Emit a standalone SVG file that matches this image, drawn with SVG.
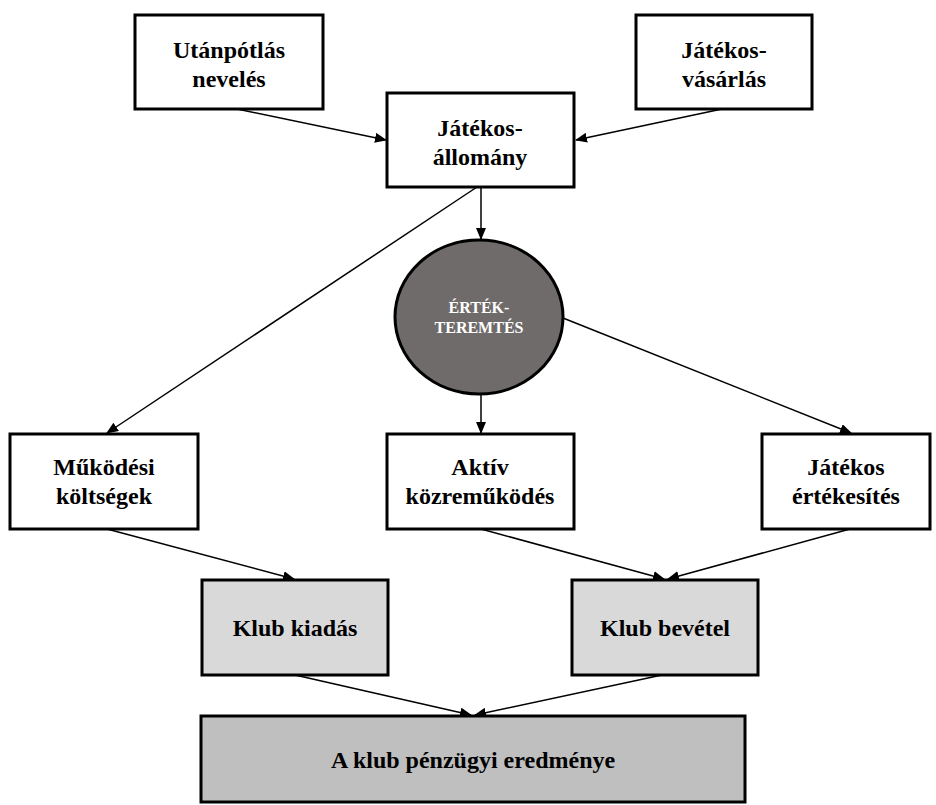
<svg xmlns="http://www.w3.org/2000/svg" width="936" height="805" viewBox="0 0 936 805">
  <style>
    .box { fill: #ffffff; stroke: #000000; stroke-width: 3; }
    .sum { fill: #d9d9d9; stroke: #000000; stroke-width: 3; }
    .res { fill: #bfbfbf; stroke: #000000; stroke-width: 3; }
    .hub { fill: #6f6b6a; stroke: #000000; stroke-width: 3; }
    text { font-family: "Times New Roman", "Liberation Serif", "DejaVu Serif", serif; font-weight: bold; text-anchor: middle; }
    .lbl { font-size: 24px; fill: #000000; }
    .hubl { font-size: 16px; fill: #ffffff; }
    .edge { stroke: #000000; stroke-width: 1.5; fill: none; marker-end: url(#arrow); }
  </style>
  <defs>
    <marker id="arrow" markerUnits="userSpaceOnUse" markerWidth="12" markerHeight="10" refX="11" refY="5" orient="auto">
      <path d="M0,0 L12,5 L0,10 z" fill="#000000"/>
    </marker>
  </defs>

  <g id="connectors">
    <line class="edge" x1="237" y1="109" x2="386" y2="140"/>
    <line class="edge" x1="722" y1="109" x2="576" y2="140"/>
    <line class="edge" x1="481" y1="187" x2="481" y2="239"/>
    <line class="edge" x1="477" y1="187" x2="107" y2="433"/>
    <line class="edge" x1="481" y1="394" x2="481" y2="433"/>
    <line class="edge" x1="563" y1="318" x2="851" y2="433"/>
    <line class="edge" x1="107" y1="529" x2="294" y2="579"/>
    <line class="edge" x1="481" y1="529" x2="664" y2="579"/>
    <line class="edge" x1="850" y1="529" x2="668" y2="579"/>
    <line class="edge" x1="295" y1="675" x2="471" y2="715"/>
    <line class="edge" x1="662" y1="675" x2="475" y2="715"/>
  </g>

  <g id="utanpotlas">
    <rect class="box" x="135" y="15" width="188" height="94"/>
    <text class="lbl" x="229" y="58" font-family="Liberation Serif, serif">Utánpótlás</text>
    <text class="lbl" x="229" y="87" font-family="Liberation Serif, serif">nevelés</text>
  </g>

  <g id="jatekosvasarlas">
    <rect class="box" x="636" y="15" width="176" height="94"/>
    <text class="lbl" x="724" y="58">Játékos-</text>
    <text class="lbl" x="724" y="87">vásárlás</text>
  </g>

  <g id="jatekosallomany">
    <rect class="box" x="387" y="93" width="187" height="94"/>
    <text class="lbl" x="480" y="136">Játékos-</text>
    <text class="lbl" x="480" y="165">állomány</text>
  </g>

  <g id="ertekteremtes">
    <ellipse class="hub" cx="479" cy="317" rx="84" ry="77"/>
    <text class="hubl" x="479" y="313">ÉRTÉK-</text>
    <text class="hubl" x="479" y="333">TEREMTÉS</text>
  </g>

  <g id="mukodesi">
    <rect class="box" x="10" y="434" width="188" height="95"/>
    <text class="lbl" x="104" y="475">Működési</text>
    <text class="lbl" x="104" y="504">költségek</text>
  </g>

  <g id="aktiv">
    <rect class="box" x="387" y="434" width="187" height="95"/>
    <text class="lbl" x="480" y="475">Aktív</text>
    <text class="lbl" x="480" y="504">közreműködés</text>
  </g>

  <g id="ertekesites">
    <rect class="box" x="762" y="434" width="168" height="95"/>
    <text class="lbl" x="846" y="475">Játékos</text>
    <text class="lbl" x="846" y="504">értékesítés</text>
  </g>

  <g id="kiadas">
    <rect class="sum" x="202" y="580" width="186" height="95"/>
    <text class="lbl" x="295" y="636">Klub kiadás</text>
  </g>

  <g id="bevetel">
    <rect class="sum" x="572" y="580" width="186" height="95"/>
    <text class="lbl" x="665" y="636">Klub bevétel</text>
  </g>

  <g id="eredmeny">
    <rect class="res" x="201" y="716" width="544" height="86"/>
    <text class="lbl" x="473" y="768">A klub pénzügyi eredménye</text>
  </g>
</svg>
